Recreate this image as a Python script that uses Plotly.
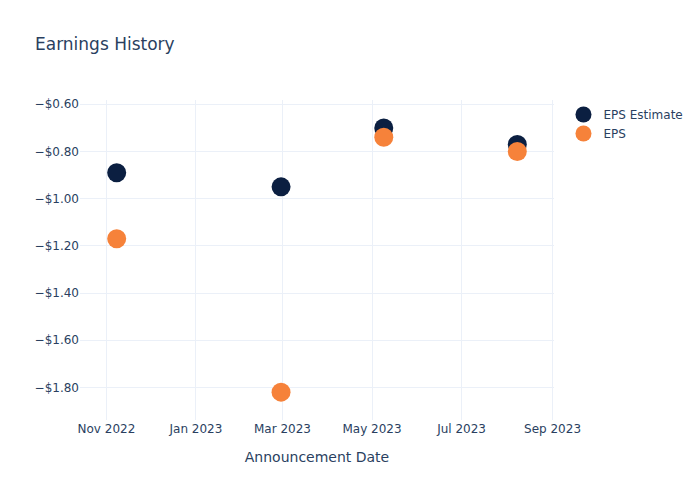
import plotly.graph_objects as go

dates = ["2022-11-08", "2023-02-28", "2023-05-09", "2023-08-08"]
eps_estimate = [-0.89, -0.95, -0.70, -0.77]
eps_actual = [-1.17, -1.82, -0.74, -0.80]

fig = go.Figure()
fig.add_trace(go.Scatter(x=dates, y=eps_estimate, mode="markers", name="EPS Estimate",
                         marker=dict(color="#0b1f41", size=19)))
fig.add_trace(go.Scatter(x=dates, y=eps_actual, mode="markers", name="EPS",
                         marker=dict(color="#f6823a", size=19)))
fig.update_layout(
    template="plotly_white",
    width=700, height=500,
    font=dict(family="DejaVu Sans"),
    title=dict(text="Earnings History"),
    xaxis=dict(title=dict(text="Announcement Date", standoff=17), tickformat="%b %Y", dtick="M2",
               range=["2022-10-14", "2023-09-02"]),
    yaxis=dict(tickformat="$.2f"),
)
fig.write_html("out.html")
